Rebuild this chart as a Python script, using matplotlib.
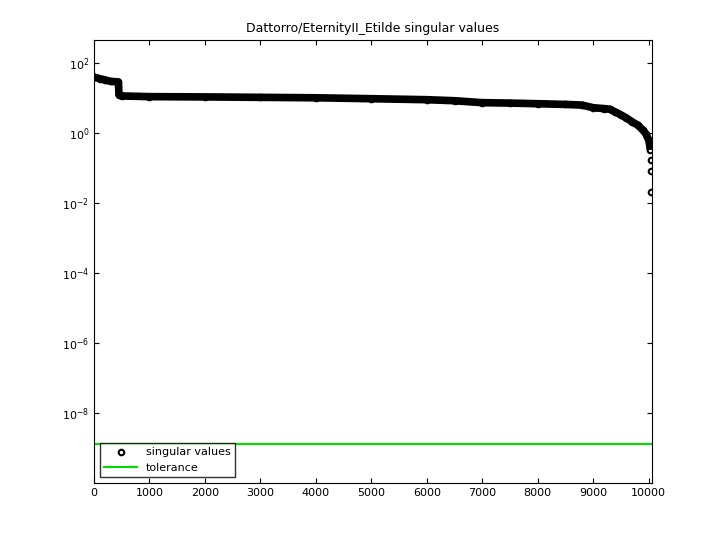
import numpy as np
import matplotlib.pyplot as plt

# singular values (index, value)
sv_index = [1, 100, 200, 300, 440, 450, 500, 1000, 2000, 3000, 4000, 5000, 6000, 6500,
            7000, 7500, 8000, 8500, 8800, 9000, 9200, 9300, 9400, 9500, 9600, 9700,
            9800, 9900, 9950, 10000, 10020, 10030]
sv_value = [40, 36, 33, 30, 29, 12.5, 11.5, 11.0, 10.8, 10.5, 10.2, 9.6, 9.0, 8.4,
            7.4, 7.2, 6.9, 6.6, 6.3, 5.3, 5.0, 4.8, 4.0, 3.3, 2.7, 2.1,
            1.7, 1.2, 0.95, 0.63, 0.45, 0.33]
tail_index = [10040, 10040, 10040]
tail_value = [0.17, 0.08, 0.021]
tolerance = 1.3e-9
n_total = 10060

fig = plt.figure(figsize=(7.2, 5.4), dpi=100)
ax = fig.add_axes([94/720, 57/540, 558/720, 443/540])

ax.semilogy(sv_index, sv_value, color="k", linewidth=5.5, solid_capstyle="butt")
ax.semilogy(sv_index + tail_index, sv_value + tail_value, "o", color="k",
            markerfacecolor="none", markersize=4, markeredgewidth=1.5,
            label="singular values")
ax.axhline(tolerance, color="#00dd00", linewidth=1.5, label="tolerance")

ax.set_xlim(0, n_total)
ax.set_ylim(10**-10, 10**2.66)
ax.set_xticks(np.arange(0, 10001, 1000))
ax.set_yticks([1e2, 1e0, 1e-2, 1e-4, 1e-6, 1e-8])
ax.minorticks_off()
ax.tick_params(direction="in", labelsize=8, top=True, right=True)
ax.set_title("Dattorro/EternityII_Etilde singular values", fontsize=9)
ax.legend(loc="lower left", fontsize=8, frameon=True, fancybox=False,
          edgecolor="k", handlelength=3)

fig.savefig("out.png", dpi=100)
